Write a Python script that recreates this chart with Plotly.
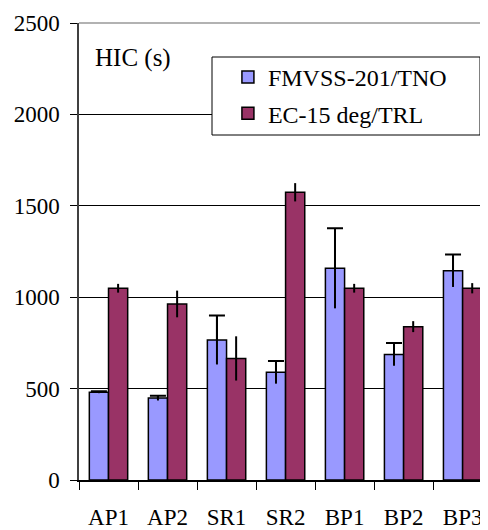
import plotly.graph_objects as go

categories = ["AP1", "AP2", "SR1", "SR2", "BP1", "BP2", "BP3"]
fmvss = [480, 448, 766, 589, 1158, 687, 1145]
fmvss_err = [5, 13, 134, 62, 219, 62, 89]
ec15 = [1049, 963, 665, 1574, 1049, 839, 1049]
ec15_err = [24, 73, 121, 50, 24, 30, 28]
y_ticks = [0, 500, 1000, 1500, 2000, 2500]

FONT = "Liberation Serif, Times New Roman, serif"
BLUE = "#9999FF"
MAROON = "#993366"

fig = go.Figure()
# cap-only error bars for the blue series (bottom cap hidden under the bar)
fig.add_trace(go.Bar(
    x=categories, y=fmvss, offsetgroup="fm", showlegend=False,
    marker=dict(color="rgba(0,0,0,0)", line=dict(width=0)),
    error_y=dict(type="data", array=fmvss_err, color="black", thickness=2, width=8),
    hoverinfo="skip",
))
fig.add_trace(go.Bar(
    x=categories, y=fmvss, name="FMVSS-201/TNO", offsetgroup="fm", legendgroup="a",
    marker=dict(color=BLUE, line=dict(color="black", width=1.5)),
    error_y=dict(type="data", array=fmvss_err, color="black", thickness=2, width=0),
))
fig.add_trace(go.Bar(
    x=categories, y=ec15, name="EC-15 deg/TRL", offsetgroup="ec", legendgroup="b",
    marker=dict(color=MAROON, line=dict(color="black", width=1.5)),
    error_y=dict(type="data", array=ec15_err, color="black", thickness=2, width=0),
))

# page body has an 8px margin, so the figure is 8px smaller than the window
fig.update_layout(
    width=480, height=522,
    margin=dict(l=71, r=0, t=15, b=50),
    paper_bgcolor="white", plot_bgcolor="white",
    barmode="group", bargap=0.35, bargroupgap=0,
    font=dict(family=FONT, size=22, color="black"),
    legend=dict(
        x=0.325, y=0.93, xanchor="left", yanchor="top",
        bgcolor="rgba(0,0,0,0)", borderwidth=0,
        font=dict(family=FONT, size=24, color="black"),
        traceorder="grouped", tracegroupgap=2, indentation=16,
    ),
    showlegend=True,
)
fig.update_xaxes(
    type="category", range=[-0.5, 6.43],
    showline=True, linecolor="black", linewidth=1.5,
    ticks="outside", tickson="boundaries", ticklen=8, tickcolor="black", tickwidth=1,
    ticklabelstandoff=16, showgrid=False,
    tickfont=dict(family=FONT, size=23, color="black"),
)
fig.update_yaxes(
    range=[0, 2500], tickvals=y_ticks,
    showline=True, linecolor="#404040", linewidth=1.5,
    ticks="outside", ticklen=7, tickcolor="black", tickwidth=1,
    ticklabelstandoff=6,
    showgrid=True, gridcolor="black", gridwidth=1, zeroline=False,
    tickfont=dict(family=FONT, size=23, color="black"),
)
fig.add_shape(type="line", xref="paper", yref="paper", x0=0, x1=1, y0=1, y1=1,
              line=dict(color="#999999", width=1.5))
# legend frame
fig.add_shape(type="rect", xref="paper", yref="paper", layer="above",
              x0=(212 - 79) / 409, x1=(480 - 79) / 409,
              y0=(480 - 135) / 457, y1=(480 - 57) / 457,
              fillcolor="white", line=dict(color="black", width=1))
fig.add_annotation(
    text="HIC (s)", xref="paper", yref="paper", x=(93 - 79) / 409, y=(480 - 58) / 457,
    xanchor="left", yanchor="middle", showarrow=False,
    font=dict(family=FONT, size=25, color="black"),
)

fig.write_html("out.html")
